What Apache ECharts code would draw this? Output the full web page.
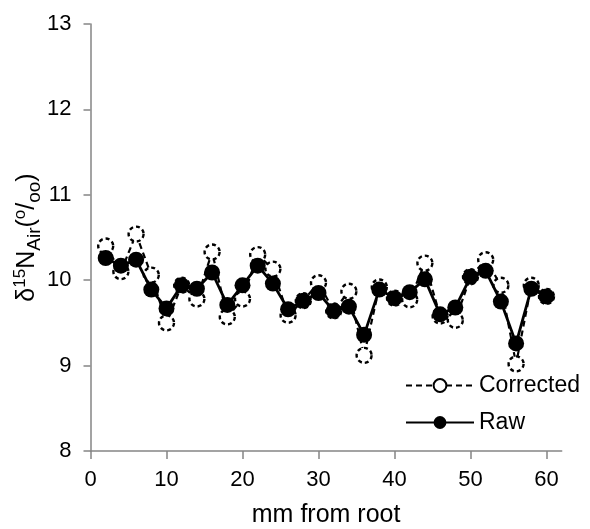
<!DOCTYPE html>
<html>
<head>
<meta charset="utf-8">
<script src="https://cdn.jsdelivr.net/npm/echarts@6/dist/echarts.min.js"></script>
<style>
  html, body { margin: 0; padding: 0; background: #fff; }
  #chart { width: 590px; height: 529px; }
</style>
</head>
<body>
<div id="chart"></div>
<script>
// Sampling positions along the root (mm)
const positions = [2, 4, 6, 8, 10, 12, 14, 16, 18, 20, 22, 24, 26, 28, 30,
                   32, 34, 36, 38, 40, 42, 44, 46, 48, 50, 52, 54, 56, 58, 60];
// δ15N values, raw measurements
const rawValues = [10.26, 10.17, 10.24, 9.89, 9.67, 9.94, 9.90, 10.09, 9.71, 9.94,
                   10.17, 9.96, 9.66, 9.76, 9.85, 9.64, 9.69, 9.36, 9.89, 9.79,
                   9.86, 10.01, 9.60, 9.68, 10.04, 10.11, 9.75, 9.26, 9.90, 9.81];
// δ15N values after correction
const correctedValues = [10.40, 10.10, 10.54, 10.06, 9.50, 9.94, 9.78, 10.33, 9.57, 9.78,
                         10.30, 10.13, 9.59, 9.76, 9.97, 9.64, 9.87, 9.12, 9.92, 9.79,
                         9.77, 10.20, 9.58, 9.53, 10.04, 10.24, 9.94, 9.02, 9.94, 9.81];
const xTicks = [0, 10, 20, 30, 40, 50, 60];

const FONT = 'Liberation Sans, Arial, sans-serif';
const AXIS_GREY = '#858585';

const pairs = (xs, ys) => xs.map((x, i) => [x, ys[i]]);

const chart = echarts.init(document.getElementById('chart'), null, { renderer: 'canvas' });

chart.setOption({
  animation: false,
  backgroundColor: '#fff',
  textStyle: { fontFamily: FONT },
  grid: { left: 90.5, right: 28.3, top: 24, bottom: 78, outerBoundsMode: 'none' },
  xAxis: {
    type: 'value',
    min: 0, max: 62, interval: 10,
    name: 'mm from root',
    nameLocation: 'middle',
    nameGap: 52,
    nameMoveOverlap: false,
    nameTextStyle: { fontFamily: FONT, fontSize: 25, color: '#000' },
    axisLine: { show: true, onZero: false, lineStyle: { color: AXIS_GREY, width: 1.5 } },
    axisTick: { show: true, inside: false, length: 8, customValues: xTicks,
                lineStyle: { color: AXIS_GREY, width: 1.5 } },
    axisLabel: { customValues: xTicks, margin: 18, fontFamily: FONT, fontSize: 22, color: '#000' },
    splitLine: { show: false }
  },
  yAxis: {
    type: 'value',
    min: 8, max: 13, interval: 1,
    name: '{m|δ}{sup|15}{m|N}{sub|Air}{m|(}{sup|o}{m|/}{sub|oo}{m|)}',
    nameLocation: 'middle',
    nameRotate: 90,
    nameGap: 45,
    nameMoveOverlap: false,
    nameTextStyle: {
      fontFamily: FONT, color: '#000',
      rich: {
        m: { fontFamily: FONT, fontSize: 25, color: '#000', lineHeight: 36, verticalAlign: 'middle' },
        sup: { fontFamily: FONT, fontSize: 17, color: '#000', lineHeight: 36, verticalAlign: 'top', padding: [2, 0, 0, 0] },
        sub: { fontFamily: FONT, fontSize: 19, color: '#000', lineHeight: 36, verticalAlign: 'bottom', padding: [0, 0, 1, 0] }
      }
    },
    axisLine: { show: true, lineStyle: { color: AXIS_GREY, width: 1.5 } },
    axisTick: { show: true, inside: false, length: 7, lineStyle: { color: AXIS_GREY, width: 1.5 } },
    axisLabel: { margin: 19, fontFamily: FONT, fontSize: 22, color: '#000' },
    splitLine: { show: false }
  },
  legend: {
    orient: 'vertical',
    left: 400,
    top: 369,
    itemWidth: 68,
    itemHeight: 16,
    itemGap: 14,
    textStyle: { fontFamily: FONT, fontSize: 23, color: '#000' },
    data: ['Corrected', 'Raw']
  },
  series: [
    {
      name: 'Corrected',
      type: 'line',
      data: pairs(positions, correctedValues),
      symbol: 'circle',
      symbolSize: 15,
      z: 2,
      lineStyle: { color: '#000', width: 2.2, type: [6, 4] },
      itemStyle: { color: '#fff', borderColor: '#000', borderWidth: 2.4, borderType: [4, 3] }
    },
    {
      name: 'Raw',
      type: 'line',
      data: pairs(positions, rawValues),
      symbol: 'circle',
      symbolSize: 16,
      z: 3,
      lineStyle: { color: '#000', width: 2.8 },
      itemStyle: { color: '#000', borderColor: '#000', borderWidth: 0 }
    }
  ]
});
</script>
</body>
</html>
